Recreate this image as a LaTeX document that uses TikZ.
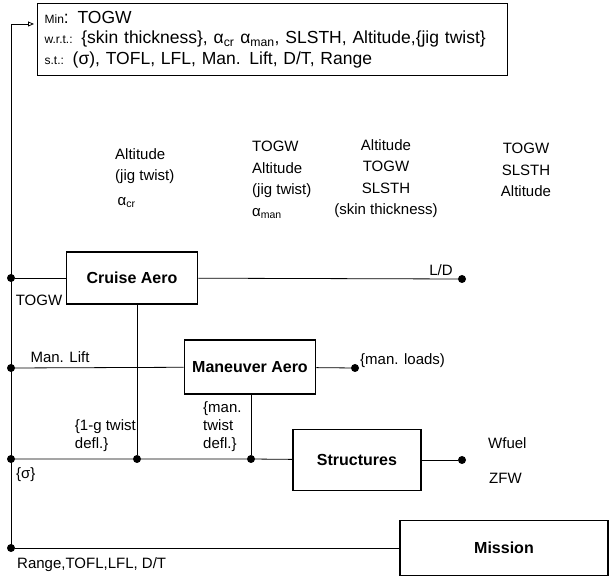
\documentclass[tikz,border=0pt]{standalone}
\usepackage{fontspec}
\setmainfont{Liberation Sans}
\usetikzlibrary{positioning, arrows.meta}

\newcommand{\pre}[1]{{\fontsize{12}{13}\selectfont #1}}

\begin{document}
\begin{tikzpicture}[
    x=1pt, y=-1pt,
    font=\fontsize{15}{21.5}\selectfont,
    box/.style  = {draw, line width=1.6pt, minimum width=131pt, minimum height=52pt, inner sep=2pt, font=\fontsize{16}{19}\selectfont\bfseries},
    goal/.style = {draw, line width=1.2pt, minimum height=72pt, text width=456pt, inner xsep=7pt, align=left, font=\fontsize{17.5}{20.5}\selectfont},
    dot/.style  = {circle, fill, inner sep=0pt, minimum size=8pt},
    lbl/.style  = {inner sep=0pt, align=left},
    note/.style = {inner sep=0pt, align=left, font=\fontsize{15}{18}\selectfont},
    link/.style = {line width=0.8pt},
  ]
  \useasboundingbox (0,0) rectangle (611,577);

  % optimisation statement
  \node[goal, anchor=north west] (goal) at (37,3) {%
    \pre{Min}: TOGW\\
    \pre{w.r.t.:} \{skin thickness\}, α\textsubscript{cr} α\textsubscript{man}, SLSTH, Altitude,\{jig twist\}\\
    \pre{s.t.:} (σ), TOFL, LFL, Man. Lift, D/T, Range};

  % disciplines
  \node[box] (cruise) at (132,278) {Cruise Aero};
  \node[box, minimum height=54pt] (maneuver) at (250,367) {Maneuver Aero};
  \node[box, minimum width=128pt, minimum height=61pt] (struct) at (357,460) {Structures};
  \node[box, minimum width=208pt, minimum height=55pt] (mission) at (504,548) {Mission};

  % design variables per discipline
  \node[lbl, anchor=north west] (dvCruise) at (115,148) {Altitude\\(jig twist)\\[3pt]\,α\textsubscript{cr}};
  \node[lbl, anchor=north west] (dvMan) at (252,141) {TOGW\\Altitude\\(jig twist)\\α\textsubscript{man}};
  \node[lbl, align=center, anchor=north] (dvStruct) at (386,139) {Altitude\\TOGW\\SLSTH\\(skin thickness)};
  \node[lbl, align=center, anchor=north] (dvMission) at (526,143) {TOGW\\SLSTH\\Altitude};

  % junctions
  \coordinate (top) at (11,24);
  \node[dot] (dTogw) at (11,278) {};
  \node[dot] (dLift) at (11,368) {};
  \node[dot] (dSig) at (11,459) {};
  \node[dot] (dMis) at (11,548) {};
  \node[dot] (dLD) at (462,279) {};
  \node[dot] (dLoads) at (355,368) {};
  \node[dot] (dCr) at (137,459) {};
  \node[dot] (dMan) at (251,459) {};
  \node[dot] (dWf) at (462,460) {};

  % connectors
  \draw[link, -{Triangle[open, length=6pt, width=5pt]}, shorten >=3pt] (dMis.center) -- (top) -- (goal.west |- top);
  \draw[link] (dTogw) -- (cruise);
  \draw[link] (cruise) -- (dLD);
  \draw[link] (dCr |- cruise.south) -- (dCr);
  \draw[link] (dLift) -- (maneuver);
  \draw[link] (maneuver) -- (dLoads);
  \draw[link] (dMan |- maneuver.south) -- (dMan);
  \draw[link] (dSig) -- (dCr) -- (dMan) -- (struct);
  \draw[link] (struct) -- (dWf);
  \draw[link] (dMis) -- (mission);

  % coupling labels
  \node[lbl] (lTogw) at (39,300) {TOGW};
  \node[lbl] (lLift) at (60,357) {Man. Lift};
  \node[lbl] (lLD) at (441,270) {L/D};
  \node[lbl, anchor=west] (lLoads) at (360,361) {\{man. loads)};
  \node[note, anchor=north east] (lOneG) at (136,419) {\{1-g twist\\ defl.\}};
  \node[note, anchor=north west] (lManT) at (203,401) {\{man.\\twist\\defl.\}};
  \node[lbl, anchor=west] (lSig) at (16,475) {\{σ\}};
  \node[lbl, anchor=west] (lWf) at (488,443) {Wfuel};
  \node[lbl, anchor=west] (lZfw) at (489,478) {ZFW};
  \node[lbl, anchor=west] (lRange) at (17,565) {Range,TOFL,LFL, D/T};
\end{tikzpicture}
\end{document}
